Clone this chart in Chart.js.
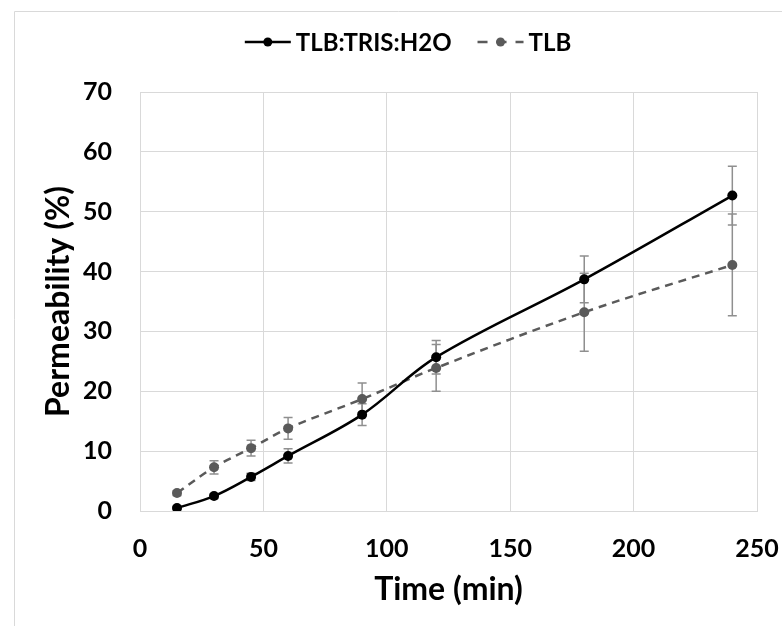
<!DOCTYPE html>
<html>
<head>
<meta charset="utf-8">
<script src="https://cdn.jsdelivr.net/npm/chart.js@4/dist/chart.umd.min.js"></script>
<style>
  html, body { margin: 0; padding: 0; background: #ffffff; }
  #wrap { position: relative; width: 782px; height: 626px; }
</style>
</head>
<body>
<div id="wrap"><canvas id="c"></canvas></div>
<script>
// ---- data ----
const timeMin = [15, 30, 45, 60, 90, 120, 180, 240];
const seriesNames = ['TLB:TRIS:H2O', 'TLB'];
const trisValues = [0.5, 2.5, 5.7, 9.2, 16.1, 25.7, 38.7, 52.7];
const trisErrors = [0.3, 0.4, 0.6, 1.2, 1.8, 2.8, 3.9, 4.9];
const tlbValues  = [3.0, 7.3, 10.5, 13.8, 18.7, 23.9, 33.2, 41.1];
const tlbErrors  = [0.4, 1.1, 1.3, 1.8, 2.7, 3.9, 6.5, 8.5];
const xTicks = [0, 50, 100, 150, 200, 250];
const yTicks = [0, 10, 20, 30, 40, 50, 60, 70];
const xTitle = 'Time (min)';
const yTitle = 'Permeability (%)';

const FONT = 'Lato, "DejaVu Sans", sans-serif';
const GRID = '#d9d9d9';

function pts(xs, ys) { return xs.map((x, i) => ({ x: x, y: ys[i] })); }

const errorBars = {
  id: 'errorBars',
  beforeDatasetsDraw(chart) {
    const ctx = chart.ctx;
    const xs = chart.scales.x, ys = chart.scales.y;
    ctx.save();
    ctx.strokeStyle = '#8f8f8f';
    ctx.lineWidth = 1.5;
    chart.data.datasets.forEach(ds => {
      const errs = ds.errors || [];
      ds.data.forEach((p, i) => {
        const e = errs[i];
        if (!e) return;
        const px = xs.getPixelForValue(p.x);
        const top = ys.getPixelForValue(p.y + e);
        const bot = ys.getPixelForValue(p.y - e);
        ctx.beginPath();
        ctx.moveTo(px, top); ctx.lineTo(px, bot);
        ctx.moveTo(px - 4.5, top); ctx.lineTo(px + 4.5, top);
        ctx.moveTo(px - 4.5, bot); ctx.lineTo(px + 4.5, bot);
        ctx.stroke();
      });
    });
    ctx.restore();
  }
};

const customLegend = {
  id: 'customLegend',
  afterDraw(chart) {
    const ctx = chart.ctx;
    ctx.save();
    // outer chart border (top and left visible)
    ctx.strokeStyle = GRID;
    ctx.lineWidth = 1;
    ctx.beginPath();
    ctx.moveTo(14.5, 700); ctx.lineTo(14.5, 11.5); ctx.lineTo(800, 11.5);
    ctx.stroke();

    ctx.font = 'bold 24px ' + FONT;
    ctx.textBaseline = 'middle';
    ctx.textAlign = 'left';
    const sampleW = 46, gapText = 5, gapItem = 26;
    const items = chart.data.datasets.map(ds => ({ ds: ds, w: sampleW + gapText + ctx.measureText(ds.label).width }));
    const total = items.reduce((s, it) => s + it.w, 0) + gapItem * (items.length - 1);
    let x = 408 - total / 2;
    const y = 42;
    items.forEach(it => {
      const ds = it.ds;
      ctx.strokeStyle = ds.borderColor;
      ctx.lineWidth = 2.5;
      ctx.setLineDash(ds.borderDash ? [10, 9] : []);
      ctx.beginPath();
      ctx.moveTo(x, y); ctx.lineTo(x + sampleW, y);
      ctx.stroke();
      ctx.setLineDash([]);
      ctx.fillStyle = ds.pointBackgroundColor;
      ctx.beginPath();
      ctx.arc(x + sampleW / 2, y, 4.5, 0, Math.PI * 2);
      ctx.fill();
      ctx.fillStyle = '#000000';
      ctx.fillText(ds.label, x + sampleW + gapText, y + 1);
      x += it.w + gapItem;
    });
    ctx.restore();
  }
};

new Chart(document.getElementById('c'), {
  type: 'line',
  data: {
    datasets: [
      {
        label: seriesNames[0],
        data: pts(timeMin, trisValues),
        errors: trisErrors,
        borderColor: '#000000',
        backgroundColor: '#000000',
        pointBackgroundColor: '#000000',
        pointBorderColor: '#000000',
        borderWidth: 2.5,
        pointRadius: 5,
        pointBorderWidth: 0,
        tension: 0.35,
        fill: false
      },
      {
        label: seriesNames[1],
        data: pts(timeMin, tlbValues),
        errors: tlbErrors,
        borderColor: '#5a5a5a',
        backgroundColor: '#5a5a5a',
        pointBackgroundColor: '#5a5a5a',
        pointBorderColor: '#5a5a5a',
        borderWidth: 2.5,
        borderDash: [8, 6],
        pointRadius: 5,
        pointBorderWidth: 0,
        tension: 0.35,
        fill: false
      }
    ]
  },
  options: {
    responsive: true,
    maintainAspectRatio: false,
    animation: false,
    layout: { padding: { left: 0, right: 25, top: 92, bottom: 0 } },
    plugins: {
      legend: { display: false },
      tooltip: { enabled: false }
    },
    scales: {
      x: {
        type: 'linear',
        min: 0, max: 250,
        afterBuildTicks(axis) { axis.ticks = xTicks.map(v => ({ value: v })); },
        afterFit(axis) { axis.height = 115; axis.paddingLeft = 0; axis.paddingRight = 0; },
        grid: { color: GRID, lineWidth: 1, drawTicks: false },
        border: { color: GRID, width: 1 },
        ticks: {
          padding: 23,
          color: '#000000',
          font: { family: FONT, size: 25, weight: 'bold' },
          maxRotation: 0
        },
        title: {
          display: true,
          text: xTitle,
          color: '#000000',
          font: { family: FONT, size: 32, weight: 'bold' },
          padding: { top: 0, bottom: 17 }
        }
      },
      y: {
        type: 'linear',
        min: 0, max: 70,
        afterBuildTicks(axis) { axis.ticks = yTicks.map(v => ({ value: v })); },
        afterFit(axis) { axis.width = 140; axis.paddingTop = 0; axis.paddingBottom = 0; },
        grid: { color: GRID, lineWidth: 1, drawTicks: false },
        border: { color: GRID, width: 1 },
        ticks: {
          padding: 28,
          color: '#000000',
          font: { family: FONT, size: 25, weight: 'bold' }
        },
        title: {
          display: true,
          text: yTitle,
          color: '#000000',
          font: { family: FONT, size: 32, weight: 'bold' },
          padding: { top: 39, bottom: 0 }
        }
      }
    }
  },
  plugins: [errorBars, customLegend]
});
</script>
</body>
</html>
